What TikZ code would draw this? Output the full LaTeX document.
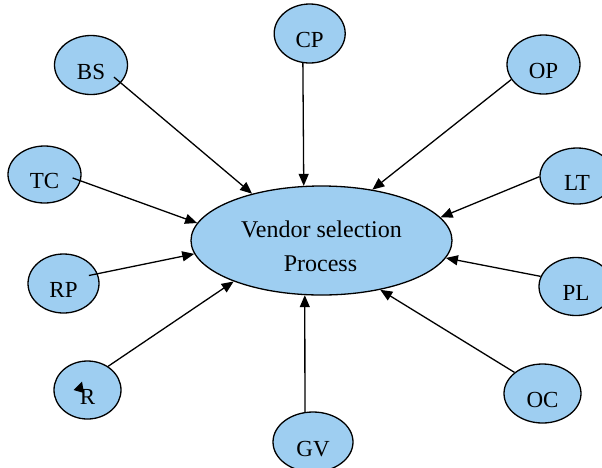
\documentclass[tikz,border=0pt]{standalone}
\usepackage{fontspec}
\setmainfont{Liberation Serif}
\usetikzlibrary{shapes.geometric,arrows.meta}
\definecolor{nodeblue}{RGB}{158,206,241}
\tikzset{
  small/.style={ellipse, draw=black, fill=nodeblue, line width=1.3pt,
    minimum width=73pt, minimum height=59pt, inner sep=0pt,
    text height=28pt, text depth=0pt, font=\fontsize{23}{23}\selectfont},
  mainell/.style={ellipse, draw=black, fill=nodeblue, line width=1.3pt,
    minimum width=261pt, minimum height=109pt, inner sep=0pt},
  maintext/.style={anchor=base, inner sep=0pt, font=\fontsize{24}{24}\selectfont},
  conn/.style={line width=1.3pt, -{Triangle[length=12pt,width=10pt]}}
}
\begin{document}
\begin{tikzpicture}[x=1pt,y=-1pt]
\useasboundingbox (0,0) rectangle (602,467);
\clip (0,0) rectangle (602,467);
\node[mainell] (V) at (321.5,240.5) {};
\node[maintext] (Vt1) at (321.5,237) {Vendor selection};
\node[maintext] (Vt2) at (320.5,271) {Process};

\node[small] (BS) at (91,65) {BS};
\node[small, minimum width=71pt] (CP) at (309.7,33.5) {CP};
\node[small] (OP) at (543.5,64.5) {OP};
\node[small, minimum height=57pt] (TC) at (44.5,174.5) {TC};
\node[small, minimum width=74pt, minimum height=56pt] (LT) at (577,176) {LT};
\node[small, minimum width=71pt] (RP) at (63.5,283.5) {RP};
\node[small, minimum width=74pt, minimum height=58pt] (PL) at (576,286.5) {PL};
\node[small, minimum width=67pt, minimum height=58pt] (R) at (87.5,390) {R};
\node[small, minimum width=77pt] (OC) at (542.5,393.5) {OC};
\node[small, minimum width=80pt, minimum height=60pt] (GV) at (313,442) {GV};

\fill[black] (82,381.5) -- (73.5,390) -- (84,393) -- cycle;

\draw[conn, shorten <=-9pt] (BS.-31.6) -- (V.146.4);
\draw[conn] (CP.-103) -- (V.108.9);
\draw[conn] (OP.205.5) -- (V.45.6);
\draw[conn, shorten <=-8.6pt] (TC.-10.3) -- (V.172.1);
\draw[conn] (LT.181.5) -- (V.11.2);
\draw[conn, shorten <=-9pt] (RP.16.8) -- (V.186.6);
\draw[conn] (PL.164) -- (V.-8.9);
\draw[conn] (R.49.5) -- (V.-155.9);
\draw[conn] (OC.143.3) -- (V.-40.5);
\draw[conn] (GV.105.3) -- (V.-107);
\end{tikzpicture}
\end{document}
